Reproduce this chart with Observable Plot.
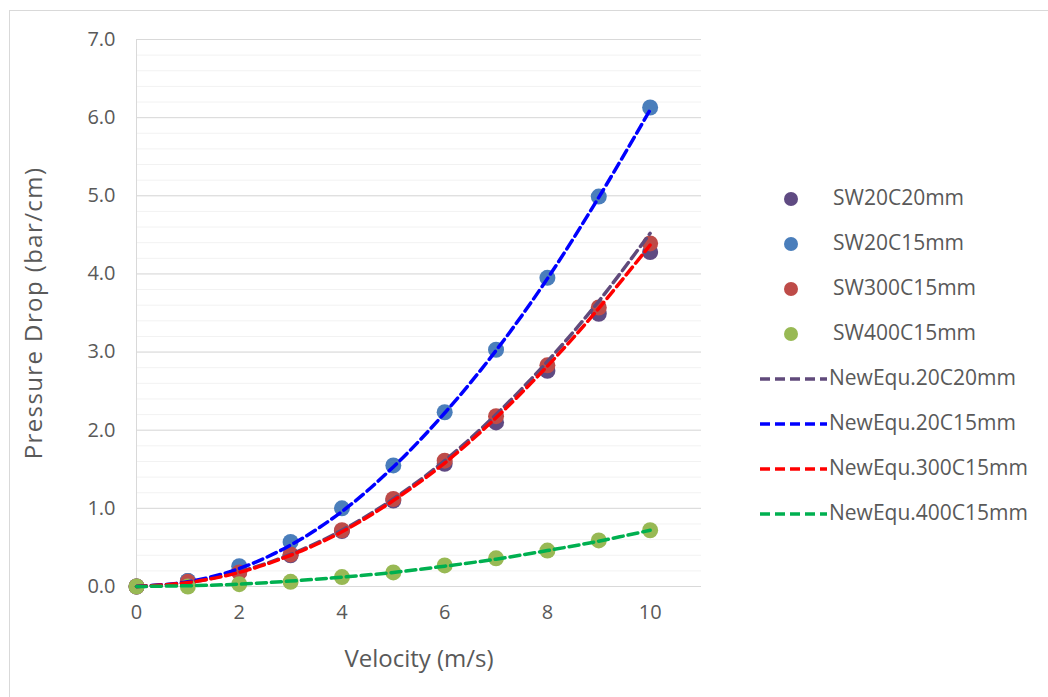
<!DOCTYPE html>
<html><head><meta charset="utf-8">
<script src="https://cdn.jsdelivr.net/npm/d3@7"></script>
<script src="https://cdn.jsdelivr.net/npm/@observablehq/plot@0.6"></script>
<style>
body{margin:0;background:#fff;font-family:"Open Sans",sans-serif;}
#wrap{position:relative;width:1048px;height:697px;overflow:hidden;}
#border{position:absolute;left:9px;top:10px;width:1060px;height:700px;border:1px solid #D9D9D9;box-sizing:border-box;}
#chart{position:absolute;left:0;top:0;}
#legend{position:absolute;left:0;top:0;}
.lg{position:absolute;font-size:21px;color:#595959;line-height:1;white-space:nowrap;}
.ytitle text{letter-spacing:1.4px;}
</style></head>
<body><div id="wrap"><div id="border"></div><div id="chart"></div><div id="legend"></div></div>
<script>
const velocity = [0,1,2,3,4,5,6,7,8,9,10];
const sw20c20 = [0,0.07,0.19,0.40,0.71,1.10,1.57,2.10,2.76,3.49,4.28];
const sw20c15 = [0,0.07,0.26,0.57,1.00,1.55,2.23,3.03,3.95,4.99,6.13];
const sw300c15 = [0,0.06,0.18,0.41,0.72,1.12,1.61,2.18,2.83,3.57,4.39];
const sw400c15 = [0,0.00,0.03,0.06,0.12,0.18,0.27,0.36,0.46,0.59,0.72];
const eq20c20 = [0,0.05,0.19,0.41,0.72,1.12,1.61,2.20,2.88,3.65,4.52];
const eq20c15 = [0,0.06,0.23,0.53,0.96,1.53,2.22,3.02,3.94,4.98,6.10];
const eq300c15 = [0,0.05,0.18,0.40,0.70,1.10,1.58,2.16,2.82,3.56,4.37];
const eq400c15 = [0,0.01,0.03,0.07,0.12,0.18,0.26,0.35,0.46,0.58,0.72];
const xTicks = [0,2,4,6,8,10];
const yTicks = [0,1,2,3,4,5,6,7];
const yMinor = d3.range(0,36).map(i=>i/5);

const measured = [
  {name:"SW20C20mm", values:sw20c20, color:"#5F4A82"},
  {name:"SW20C15mm", values:sw20c15, color:"#4A7EBB"},
  {name:"SW300C15mm", values:sw300c15, color:"#BE4B48"},
  {name:"SW400C15mm", values:sw400c15, color:"#98B954"}
];
const fitted = [
  {name:"NewEqu.20C20mm", values:eq20c20, color:"#604A7B"},
  {name:"NewEqu.20C15mm", values:eq20c15, color:"#0000FF"},
  {name:"NewEqu.300C15mm", values:eq300c15, color:"#FF0000"},
  {name:"NewEqu.400C15mm", values:eq400c15, color:"#00B050"}
];
const toRows = s => velocity.map((v,i)=>({x:v,y:s.values[i],name:s.name,color:s.color}));

const marks = [
  Plot.ruleY(yMinor,{stroke:"#F2F2F2",strokeWidth:1}),
  Plot.ruleY(yTicks,{stroke:"#D9D9D9",strokeWidth:1}),
  Plot.ruleX([0],{stroke:"#D9D9D9",strokeWidth:1}),
  Plot.axisX({ticks:xTicks,tickSize:0,tickPadding:18,fontSize:20,color:"#595959",label:null,tickFormat:d=>String(d)}),
  Plot.axisY({ticks:yTicks,tickSize:0,tickPadding:21,fontSize:20,color:"#595959",label:null,tickFormat:d=>d.toFixed(1)}),
  Plot.text(["Velocity (m/s)"],{frameAnchor:"bottom",dy:80,fontSize:24,fill:"#595959"}),
  Plot.text(["Pressure Drop (bar/cm)"],{frameAnchor:"left",textAnchor:"middle",rotate:-90,dx:-102,fontSize:24,fill:"#595959",className:"ytitle"})
];
measured.forEach(s=>{
  marks.push(Plot.dot(toRows(s),{x:"x",y:"y",r:8,fill:s.color,stroke:null}));
});
fitted.forEach(s=>{
  marks.push(Plot.line(toRows(s),{x:"x",y:"y",stroke:s.color,strokeWidth:3.5,strokeDasharray:"10,5",curve:"catmull-rom"}));
});

const chart = Plot.plot({
  width:1048,height:697,
  marginLeft:136,marginRight:347,marginTop:39,marginBottom:111,
  x:{domain:[0,11]},
  y:{domain:[0,7]},
  style:{fontFamily:"'Open Sans',sans-serif",background:"transparent",overflow:"visible"},
  marks
});
document.getElementById("chart").appendChild(chart);

// legend
const lg = document.getElementById("legend");
const all = measured.map(s=>({...s,type:"dot"})).concat(fitted.map(s=>({...s,type:"line"})));
all.forEach((s,i)=>{
  const cy = 199 + i*45;
  const ns="http://www.w3.org/2000/svg";
  const svg=document.createElementNS(ns,"svg");
  svg.setAttribute("width","80");svg.setAttribute("height","20");
  svg.style.position="absolute";svg.style.left="755px";svg.style.top=(cy-10)+"px";
  if(s.type==="dot"){
    const c=document.createElementNS(ns,"circle");
    c.setAttribute("cx","36");c.setAttribute("cy","10");c.setAttribute("r","7");c.setAttribute("fill",s.color);
    svg.appendChild(c);
  } else {
    const l=document.createElementNS(ns,"line");
    l.setAttribute("x1","5");l.setAttribute("x2","72");l.setAttribute("y1","10");l.setAttribute("y2","10");
    l.setAttribute("stroke",s.color);l.setAttribute("stroke-width","3.5");l.setAttribute("stroke-dasharray","10,5");
    svg.appendChild(l);
  }
  lg.appendChild(svg);
  const t=document.createElement("div");
  t.className="lg";t.textContent=s.name;
  t.style.left=(s.type==="dot"?833:829)+"px";t.style.top=(cy-12)+"px";
  lg.appendChild(t);
});
</script></body></html>
